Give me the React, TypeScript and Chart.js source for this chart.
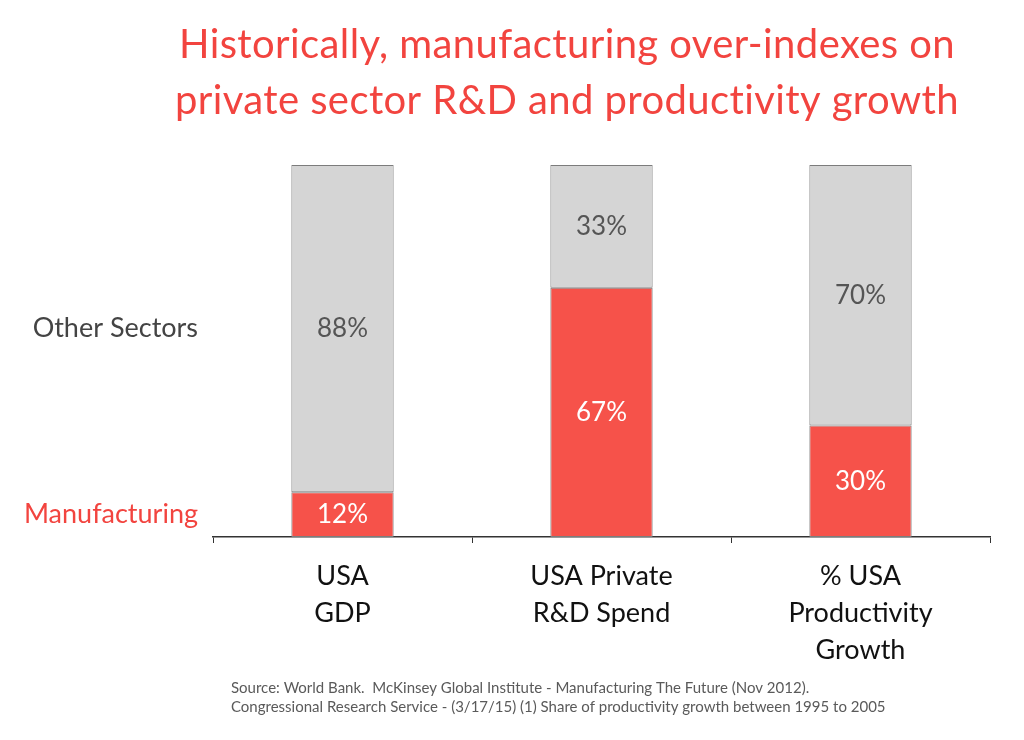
import { useEffect, useRef } from "react";
import { Chart, registerables } from "chart.js";

Chart.register(...registerables);

const categories: string[][] = [
  ["USA", "GDP"],
  ["USA Private", "R&D Spend"],
  ["% USA", "Productivity", "Growth"],
];
const manufacturing = [12, 67, 30];
const otherSectors = [88, 33, 70];
const seriesNames = ["Manufacturing", "Other Sectors"];
const titleLines = [
  "Historically, manufacturing over-indexes on",
  "private sector R&D and productivity growth",
];
const sourceLines = [
  "Source: World Bank.  McKinsey Global Institute - Manufacturing The Future (Nov 2012).",
  "Congressional Research Service - (3/17/15) (1) Share of productivity growth between 1995 to 2005",
];

const FONT = "Lato, 'Open Sans', sans-serif";
const RED = "#F6524A";
const TITLE_RED = "#F2443F";
const GRAY = "#D5D5D5";
const BORDER = "#7c7c7c";

export default function App() {
  const ref = useRef<HTMLCanvasElement | null>(null);

  useEffect(() => {
    if (!ref.current) return;
    // y positions of the series names: midpoints of first bar's segments
    const seriesTickValues = [
      manufacturing[0] / 2,
      manufacturing[0] + otherSectors[0] / 2,
    ];

    const labelPlugin = {
      id: "segmentLabels",
      afterDatasetsDraw(chart: any) {
        const ctx = chart.ctx;
        ctx.save();
        ctx.font = `26px ${FONT}`;
        ctx.textAlign = "center";
        ctx.textBaseline = "middle";
        chart.data.datasets.forEach((ds: any, di: number) => {
          const meta = chart.getDatasetMeta(di);
          meta.data.forEach((el: any, i: number) => {
            const p = el.getCenterPoint();
            ctx.fillStyle = di === 0 ? "#ffffff" : "#555555";
            ctx.fillText(`${ds.data[i]}%`, p.x, p.y);
          });
        });
        ctx.restore();
      },
    };

    const textPlugin = {
      id: "titleSource",
      afterDraw(chart: any) {
        const ctx = chart.ctx;
        ctx.save();
        ctx.font = `40px ${FONT}`;
        try {
          (ctx as any).letterSpacing = "0.4px";
        } catch (e) {}
        ctx.fillStyle = TITLE_RED;
        ctx.textAlign = "center";
        ctx.textBaseline = "middle";
        ctx.fillText(titleLines[0], 567, 45);
        ctx.fillText(titleLines[1], 567, 101);
        try {
          (ctx as any).letterSpacing = "0px";
        } catch (e) {}
        ctx.font = `15px ${FONT}`;
        ctx.fillStyle = "#5a5a5a";
        ctx.textAlign = "left";
        ctx.fillText(sourceLines[0], 231, 688);
        ctx.fillText(sourceLines[1], 231, 707);
        ctx.restore();
      },
    };

    const chart = new Chart(ref.current, {
      type: "bar",
      data: {
        labels: categories,
        datasets: [
          {
            label: seriesNames[0],
            data: manufacturing,
            backgroundColor: RED,
            borderColor: BORDER,
            borderWidth: 1,
            borderSkipped: false,
            barPercentage: 0.395,
            categoryPercentage: 1,
          },
          {
            label: seriesNames[1],
            data: otherSectors,
            backgroundColor: GRAY,
            borderColor: BORDER,
            borderWidth: 1,
            borderSkipped: false,
            barPercentage: 0.395,
            categoryPercentage: 1,
          },
        ],
      },
      options: {
        responsive: false,
        animation: false,
        layout: { padding: { top: 165, right: 34, left: 0, bottom: 0 } },
        plugins: {
          legend: { display: false },
          title: { display: false },
          tooltip: { enabled: false },
        },
        scales: {
          x: {
            stacked: true,
            grid: {
              offset: true,
              drawOnChartArea: false,
              drawTicks: true,
              tickLength: 6,
              color: "#333333",
              lineWidth: 1,
            },
            border: { color: "#333333", width: 1.5 },
            ticks: {
              color: "#111111",
              font: { family: FONT, size: 27, lineHeight: 1.37 },
              padding: 15,
              maxRotation: 0,
              autoSkip: false,
            },
            afterFit: (s: any) => {
              s.height = 203;
            },
          },
          y: {
            stacked: true,
            min: 0,
            max: 100,
            grid: { display: false, drawTicks: false },
            border: { display: false },
            afterBuildTicks: (s: any) => {
              s.ticks = seriesTickValues.map((v) => ({ value: v }));
            },
            ticks: {
              callback: (_v: any, i: number) => seriesNames[i],
              color: (c: any) => (c.index === 0 ? TITLE_RED : "#444444"),
              font: { family: FONT, size: 27 },
              padding: 15,
            },
            afterFit: (s: any) => {
              s.width = 213;
            },
          },
        },
      },
      plugins: [labelPlugin, textPlugin],
    });
    return () => chart.destroy();
  }, []);

  return (
    <canvas
      ref={ref}
      width={1024}
      height={740}
      style={{ position: "absolute", left: 0, top: 0, display: "block" }}
    />
  );
}
